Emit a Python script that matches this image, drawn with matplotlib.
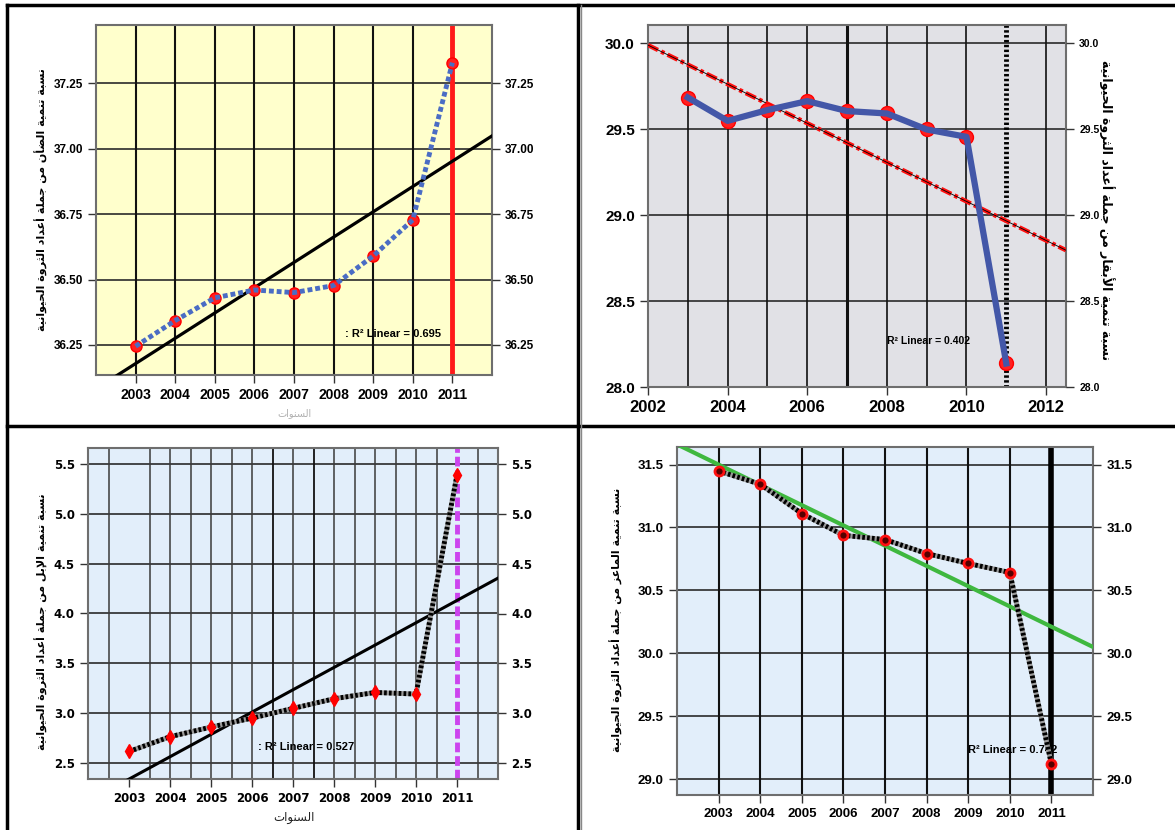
import matplotlib.pyplot as plt
from matplotlib.lines import Line2D
from matplotlib.ticker import FormatStrFormatter
import numpy as np

# figure size in pixels (dpi 100)
W, H = 1175, 830

years = [2003, 2004, 2005, 2006, 2007, 2008, 2009, 2010, 2011]

# share of each animal in the total livestock count (%)
sheep_share = [36.245, 36.343, 36.430, 36.460, 36.450, 36.477, 36.590, 36.728, 37.329]
cattle_share = [29.685, 29.549, 29.612, 29.664, 29.606, 29.592, 29.499, 29.456, 28.137]
camel_share = [2.616, 2.764, 2.861, 2.951, 3.048, 3.145, 3.208, 3.192, 5.390]
goat_share = [31.449, 31.344, 31.111, 30.938, 30.904, 30.793, 30.714, 30.642, 29.119]

# linear trend lines as drawn on the charts (start year, end year) -> (start value, end value)
sheep_fit_x, sheep_fit_y = [2002, 2012], [36.082, 37.049]
cattle_fit_x, cattle_fit_y = [2002, 2012.5], [29.990, 28.796]
camel_fit_x, camel_fit_y = [2002, 2012], [2.115, 4.355]
goat_fit_x, goat_fit_y = [2002, 2012], [31.661, 30.050]

r2_values = [0.695, 0.402, 0.527, 0.742]

sheep_ticks = [36.25, 36.50, 36.75, 37.00, 37.25]
cattle_ticks = [28.0, 28.5, 29.0, 29.5, 30.0]
camel_ticks = [2.5, 3.0, 3.5, 4.0, 4.5, 5.0, 5.5]
goat_ticks = [29.0, 29.5, 30.0, 30.5, 31.0, 31.5]

ylabels = [
    "نسبة تنمية الضأن من جملة أعداد الثروة الحيوانية",
    "نسبة تنمية الأبقار من جملة أعداد الثروة الحيوانية",
    "نسبة تنمية الإبل من جملة أعداد الثروة الحيوانية",
    "نسبة تنمية الماعز من جملة أعداد الثروة الحيوانية",
]
xlabel = "السنوات"

# matplotlib has no arabic shaping, so join the letters by hand
# (presentation forms B: isolated, final, initial, medial)
AR_FORMS = {
    'ا': (0xFE8D, False), 'أ': (0xFE83, False), 'إ': (0xFE87, False),
    'ب': (0xFE8F, True), 'ة': (0xFE93, False), 'ت': (0xFE95, True),
    'ث': (0xFE99, True), 'ج': (0xFE9D, True), 'ح': (0xFEA1, True),
    'د': (0xFEA9, False), 'ر': (0xFEAD, False), 'ز': (0xFEAF, False),
    'س': (0xFEB1, True), 'ض': (0xFEBD, True), 'ع': (0xFEC9, True),
    'ق': (0xFED5, True), 'ل': (0xFEDD, True), 'م': (0xFEE1, True),
    'ن': (0xFEE5, True), 'و': (0xFEED, False), 'ي': (0xFEF1, True),
}
LAM_ALEF = {'ا': 0xFEFB, 'أ': 0xFEF7, 'إ': 0xFEF9}


def shape_ar(text):
    out = []
    i = 0
    prev_joins = False
    while i < len(text):
        c = text[i]
        if c not in AR_FORMS:
            out.append(c)
            prev_joins = False
            i += 1
            continue
        nxt = text[i + 1] if i + 1 < len(text) else ''
        if c == 'ل' and nxt in LAM_ALEF:
            out.append(chr(LAM_ALEF[nxt] + (1 if prev_joins else 0)))
            prev_joins = False
            i += 2
            continue
        base, dual = AR_FORMS[c]
        joins_next = dual and nxt in AR_FORMS
        if prev_joins and joins_next:
            form = 3
        elif prev_joins:
            form = 1
        elif joins_next:
            form = 2
        else:
            form = 0
        out.append(chr(base + form))
        prev_joins = dual
        i += 1
    return ''.join(reversed(out))


fig = plt.figure(figsize=(W / 100, H / 100), dpi=100)


def add_axes_px(left, top, right, bottom):
    return fig.add_axes([left / W, 1 - bottom / H, (right - left) / W, (bottom - top) / H])


def setup_axes(ax, bg, ylim, yticks, yfmt, lfont, rfont, tick_family='Liberation Sans'):
    ax.set_facecolor(bg)
    ax.set_ylim(ylim)
    ax.set_yticks(yticks)
    ax.yaxis.set_major_formatter(FormatStrFormatter(yfmt))
    for s in ax.spines.values():
        s.set_color('#6e6e6e')
        s.set_linewidth(1.5)
    ax.tick_params(direction='out', length=6, width=1, color='#333333')
    for lbl in ax.get_yticklabels() + ax.get_xticklabels():
        lbl.set_fontfamily(tick_family)
        lbl.set_fontweight('bold')
    for lbl in ax.get_yticklabels():
        lbl.set_fontsize(lfont)
    ax.grid(axis='y', color='#2a2a2a', linewidth=1.2)
    ax.set_axisbelow(True)

    ax2 = ax.twinx()
    ax2.set_ylim(ylim)
    ax2.set_yticks(yticks)
    ax2.yaxis.set_major_formatter(FormatStrFormatter(yfmt))
    for s in ax2.spines.values():
        s.set_visible(False)
    ax2.tick_params(direction='out', length=6, width=1, color='#333333')
    for lbl in ax2.get_yticklabels():
        lbl.set_fontfamily(tick_family)
        lbl.set_fontweight('bold')
        lbl.set_fontsize(rfont)
    return ax2


def r2_text(ax, x, y, txt, size=8):
    ax.text(x, y, txt, fontsize=size, fontweight='bold', family='Liberation Sans',
            ha='left', va='center', zorder=2)


# ---------------- panel 1: sheep ----------------
ax = add_axes_px(96, 25, 492, 375)
ax.set_xlim(2002, 2012)
ax.set_xticks(years)
ax.set_xticklabels([str(y) for y in years], fontsize=10)
setup_axes(ax, '#ffffcc', (36.135, 37.473), sheep_ticks, '%.2f', 8.5, 8.5)
for yr in np.arange(2003, 2011):
    ax.axvline(yr, color='#111111', lw=1.5, zorder=1)
ax.axvline(2011, color='#ff1a1a', lw=3.5, zorder=2)
ax.plot(sheep_fit_x, sheep_fit_y, color='black', lw=2.3, zorder=3)
ax.plot(years, sheep_share, 'o', ms=8, mfc='#ff2020', mec='#ff0000', zorder=4)
ax.plot(years, sheep_share, color='#4a6cc4', lw=3.5, ls=(0, (1, 0.6)), zorder=5)
r2_text(ax, 2008.3, 36.29, ': R² Linear = %.3f' % r2_values[0])
fig.text(294 / W, 1 - 413 / H, shape_ar(xlabel), fontsize=7, color='#b0b0b0',
         ha='center', va='center', family='DejaVu Sans')

# ---------------- panel 2: cattle ----------------
ax = add_axes_px(648, 25, 1066, 387)
ax.set_xlim(2002, 2012.5)
ax.set_xticks(np.arange(2002, 2013, 2))
ax.set_xticklabels([str(y) for y in range(2002, 2013, 2)], fontsize=12)
setup_axes(ax, '#e1e1e6', (28.0, 30.107), cattle_ticks, '%.1f', 11, 7.5)
for yr in np.arange(2003, 2013):
    if yr == 2011:
        continue
    ax.axvline(yr, color='#111111', lw=2.2 if yr == 2007 else 1.2, zorder=1)
ax.axvline(2011, color='black', lw=3.5, ls=(0, (0.5, 0.5)), zorder=2)
ax.plot(cattle_fit_x, cattle_fit_y, color='#ff1010', lw=3.2, ls=(0, (2.5, 0.8, 0.8, 0.8)), zorder=3)
ax.plot(cattle_fit_x, cattle_fit_y, color='black', lw=0.6, zorder=3)
ax.plot(years, cattle_share, 'o', ms=10, mfc='#ff2020', mec='#ff0000', zorder=4)
ax.plot(years, cattle_share, color='#4357a8', lw=4.5, zorder=5)
r2_text(ax, 2008.0, 28.27, 'R² Linear = %.3f' % r2_values[1], size=7.5)
fig.text(1107 / W, 1 - 210 / H, shape_ar(ylabels[1]), rotation=-90, fontsize=9,
         fontweight='bold', ha='center', va='center', family='DejaVu Sans')

# ---------------- panel 3: camels ----------------
ax = add_axes_px(88, 448, 498, 779)
ax.set_xlim(2002, 2012)
ax.set_xticks(years)
ax.set_xticklabels([str(y) for y in years], fontsize=8.5)
setup_axes(ax, '#e2eefa', (2.34, 5.66), camel_ticks, '%.1f', 8.5, 8.5,
           tick_family='DejaVu Sans')
for yr in np.arange(2002.5, 2012, 0.5):
    if yr in (2003, 2011):
        continue
    dark = yr in (2006.5, 2007.5)
    ax.axvline(yr, color='#111111' if dark else '#3a3a3a', lw=1.3 if dark else 1.1, zorder=1)
ax.axvline(2011, color='#cc44ee', lw=3.5, ls=(0, (2, 0.8)), zorder=2)
ax.plot(camel_fit_x, camel_fit_y, color='black', lw=2.2, zorder=3)
ax.plot(years, camel_share, color='#9a9a9a', lw=3.5, zorder=4)
ax.plot(years, camel_share, color='black', lw=3.5, ls=(0, (0.55, 0.45)), zorder=4)
ax.plot(years, camel_share, 'd', ms=7, mfc='#ff0000', mec='#ff0000', zorder=5)
r2_text(ax, 2006.15, 2.66, ': R² Linear = %.3f' % r2_values[2])
fig.text(294 / W, 1 - 817 / H, shape_ar(xlabel), fontsize=8.5, color='#222222',
         ha='center', va='center', family='DejaVu Sans')

# ---------------- panel 4: goats ----------------
ax = add_axes_px(677, 447, 1093, 795)
ax.set_xlim(2002, 2012)
ax.set_xticks(years)
ax.set_xticklabels([str(y) for y in years], fontsize=9.5)
setup_axes(ax, '#e2eefa', (28.873, 31.64), goat_ticks, '%.1f', 9.5, 9.5)
for yr in np.arange(2003, 2011):
    ax.axvline(yr, color='#111111', lw=1.5, zorder=1)
ax.axvline(2011, color='black', lw=4, zorder=2)
r2_text(ax, 2009.0, 29.23, 'R² Linear = %.3f' % r2_values[3])
ax.plot(goat_fit_x, goat_fit_y, color='#3fb83f', lw=3, zorder=3)
ax.plot(years, goat_share, color='#9a9a9a', lw=3.5, zorder=4)
ax.plot(years, goat_share, color='black', lw=3.5, ls=(0, (0.55, 0.45)), zorder=4)
ax.plot(years, goat_share, 'o', ms=6.5, mfc='#550000', mec='#ff1010', mew=2, zorder=5)

# rotated y labels on the left side
for (x, y), txt in zip([(41, 200), (41, 622), (616, 620)], [ylabels[0], ylabels[2], ylabels[3]]):
    fig.text(x / W, 1 - y / H, shape_ar(txt), rotation=90, fontsize=8, fontweight='bold',
             ha='center', va='center', family='DejaVu Sans')


# panel frames
def frame(x0, y0, x1, y1, color='black', lw=2.5):
    fig.add_artist(Line2D([x0 / W, x1 / W], [1 - y0 / H, 1 - y1 / H], color=color, lw=lw))


frame(7, 5, W, 5)
frame(7, 5, 7, H)
frame(578, 5, 578, H)
frame(7, 426, W, 426)
frame(581, 5, 581, H, color='#888888', lw=1)

fig.savefig('out.png', dpi=100)
